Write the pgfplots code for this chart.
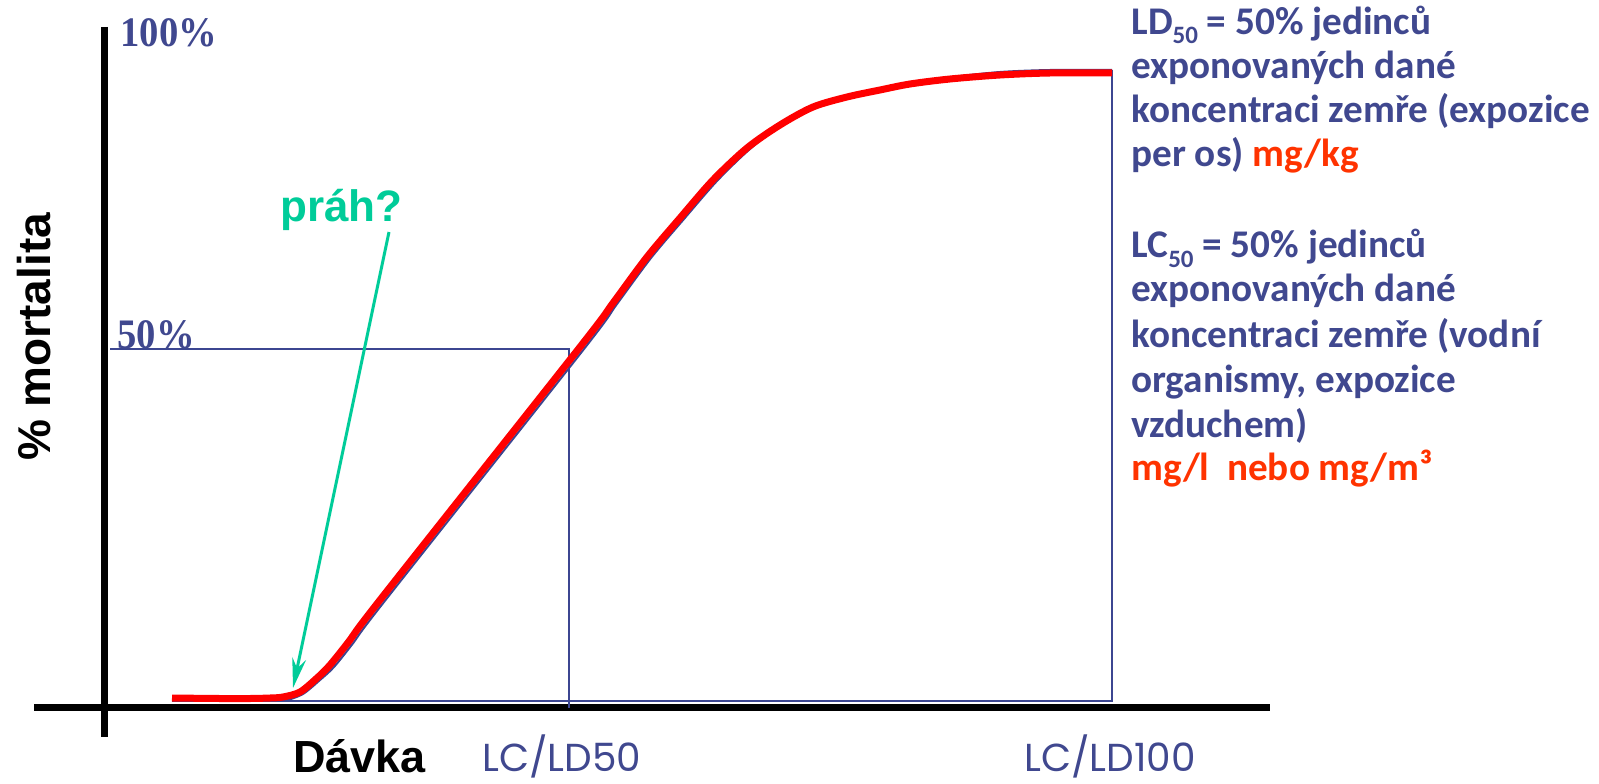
\documentclass[border=0pt]{standalone}
\usepackage{pgfplots}
\pgfplotsset{compat=1.18}
\usepackage{fontspec}
\setmainfont{Liberation Sans}
\newfontfamily\carlito{Carlito}
\newfontfamily\lserif{Liberation Serif}
\newfontfamily\poppins{Poppins}
\usetikzlibrary{arrows.meta}
\definecolor{txtblue}{RGB}{64,72,143}
\definecolor{lnblue}{RGB}{60,70,145}
\definecolor{txtred}{RGB}{255,51,0}
\definecolor{prahgreen}{RGB}{0,204,153}
\newcommand{\sub}[1]{\raisebox{-4.5pt}{\fontsize{12.5}{12.5}\selectfont #1}}
\begin{document}
\begin{tikzpicture}
\begin{axis}[width=799.5pt,height=391.5pt,scale only axis,
  xmin=0,xmax=1599,ymin=0,ymax=783,hide axis,clip=false]
\path (axis cs:0,0) rectangle (axis cs:1599,783);
% black axes
\draw[line width=3.5pt,black] (axis cs:104,756) -- (axis cs:104,46);
\draw[line width=3.5pt,black] (axis cs:34,76) -- (axis cs:1270,76);
% blue guide lines
\addplot[lnblue,line width=1pt] coordinates {(110,434) (569,434) (569,75)};
\addplot[lnblue,line width=1pt] coordinates {(172,82) (1112,82) (1112,713)};
% blue outline curve
\addplot[lnblue,line width=1pt,smooth,tension=0.5] coordinates {
(285,82) (303,89) (320,103) (334,116) (354,141) (384,181) (584,434) (617,479)
(651,525) (684,564) (717,602) (750,634) (782,658) (815,676) (849,687)
(881,695) (912,701) (952,706) (1000,711) (1050,713) (1112,713)};
% red curve
\addplot[red,line width=3.5pt,smooth,tension=0.5,line join=round] coordinates {
(172,85) (220,84.5) (250,84.5) (270,85) (283,86) (300,91) (317,105) (330,118)
(350,143) (380,183) (580,436) (613,480) (647,526) (680,565) (713,603)
(747,635) (780,658) (813,676) (847,686) (880,693) (910,699) (950,704)
(1000,708) (1050,710) (1112,710)};
% arrow
\draw[prahgreen,line width=1.5pt,-{Stealth[length=15pt,width=7pt,inset=5pt]}]
  (axis cs:389,551) -- (axis cs:293,95);
% texts
\node[anchor=base west,inner sep=0,text=txtblue] at (axis cs:120,736)
  {\scalebox{0.92}[1]{\lserif\bfseries\fontsize{21}{21}\selectfont 100\%}};
\node[anchor=base west,inner sep=0,text=txtblue] at (axis cs:117,435)
  {\scalebox{0.92}[1]{\lserif\bfseries\fontsize{21}{21}\selectfont 50\%}};
\node[rotate=90,inner sep=0] at (axis cs:34,446)
  {\bfseries\fontsize{23}{23}\selectfont \% mortalita};
\node[anchor=base west,inner sep=0,text=prahgreen] at (axis cs:280,561)
  {\bfseries\fontsize{22}{22}\selectfont práh?};
\node[anchor=base west,inner sep=0] at (axis cs:293,11)
  {\bfseries\fontsize{22.5}{22.5}\selectfont Dávka};
\node[anchor=base west,inner sep=0,text=txtblue] at (axis cs:482,12)
  {\poppins\fontsize{19.5}{19.5}\selectfont LC/LD50};
\node[anchor=base west,inner sep=0,text=txtblue] at (axis cs:1024,12)
  {\poppins\fontsize{19.5}{19.5}\selectfont LC/LD100};
% right text block
\tikzset{rt/.style={anchor=base west,inner sep=0,text=txtblue,
  font=\carlito\bfseries\fontsize{19.6}{19.6}\selectfont}}
\node[rt] at (axis cs:1131,748) {LD\sub{50} = 50\% jedinců};
\node[rt] at (axis cs:1131,704) {exponovaných dané};
\node[rt] at (axis cs:1131,660) {koncentraci zemře (expozice};
\node[rt] at (axis cs:1131,616) {per os) \textcolor{txtred}{mg/kg}};
\node[rt] at (axis cs:1131,525) {LC\sub{50} = 50\% jedinců};
\node[rt] at (axis cs:1131,481) {exponovaných dané};
\node[rt] at (axis cs:1131,436) {koncentraci zemře (vodní};
\node[rt] at (axis cs:1131,391) {organismy, expozice};
\node[rt] at (axis cs:1131,346) {vzduchem)};
\node[rt] at (axis cs:1131,303) {\textcolor{txtred}{mg/l\ \ nebo mg/m³}};
\end{axis}
\end{tikzpicture}
\end{document}
